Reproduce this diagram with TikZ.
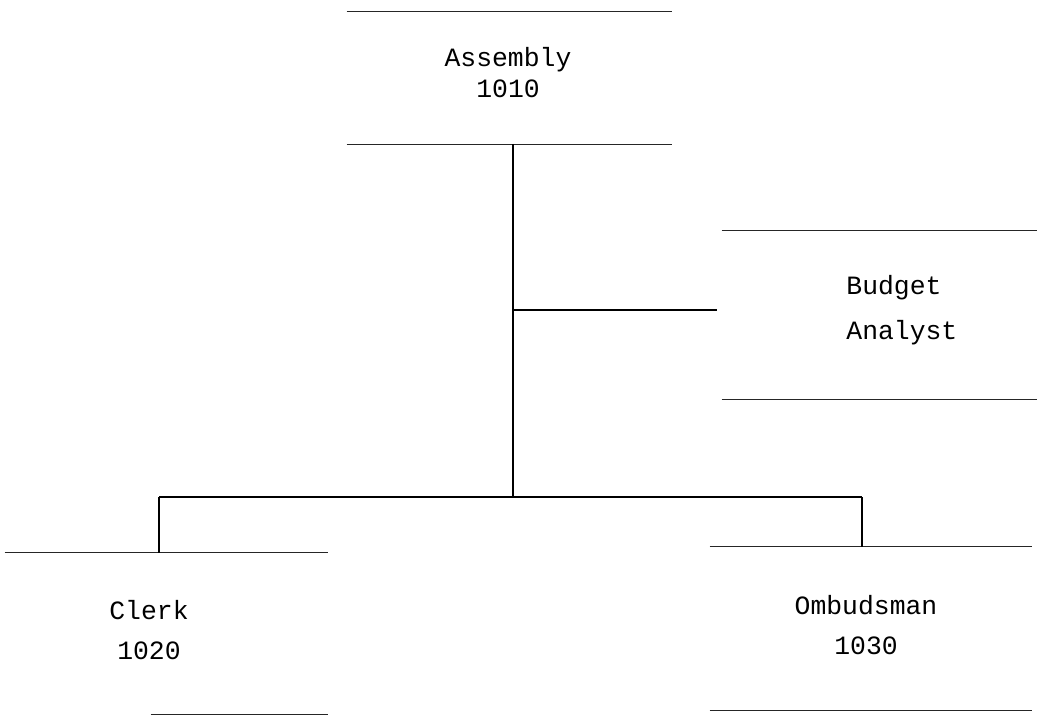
\documentclass[tikz,border=0pt]{standalone}
\usepackage{fontspec}
\setmonofont{Liberation Mono}
\begin{document}
\begin{tikzpicture}[x=0.5pt,y=-0.5pt,
  box/.style={draw=none,rectangle,inner sep=0pt},
  lbl/.style={font=\ttfamily\fontsize{13.2}{15.5}\selectfont,inner sep=0pt},
  rule/.style={line width=0.6pt,black!85},
  conn/.style={line width=0.6pt,black}]
\useasboundingbox (0,0) rectangle (1037,715);
% boxes (only top and bottom rules are drawn)
\node[box,minimum width=162.5pt,minimum height=66pt] (asm) at (509.5,78) {};
\node[box,minimum width=157.5pt,minimum height=84pt] (bud) at (879.5,315) {};
\node[box,minimum width=161.5pt,minimum height=80.5pt] (clerk) at (166.5,633.5) {};
\node[box,minimum width=161pt,minimum height=81.5pt] (omb) at (871,628.5) {};
% labels
\node[lbl,align=center] (asmt) at (508,73) {Assembly\\1010};
\node[lbl,align=left,anchor=west] (budt) at (846,310.5) {Budget\\[7pt]Analyst};
\node[lbl,align=center] (clerkt) at (149,630) {Clerk\\[4.5pt]1020};
\node[lbl,align=center] (ombt) at (866,625) {Ombudsman\\[4.5pt]1030};
% rules
\draw[rule] (asm.north west) -- (asm.north east);
\draw[rule] (asm.south west) -- (asm.south east);
\draw[rule] (bud.north west) -- (bud.north east);
\draw[rule] (bud.south west) -- (bud.south east);
\draw[rule] (clerk.north west) -- (clerk.north east);
\draw[rule] ([xshift=73pt]clerk.south west) -- (clerk.south east);
\draw[rule] (omb.north west) -- (omb.north east);
\draw[rule] (omb.south west) -- (omb.south east);
% connectors
\coordinate (top) at (513,144);
\coordinate (busL) at (159,497);
\coordinate (busR) at (862,497);
\coordinate (busM) at (513,497);
\coordinate (brE) at (717,310);
\draw[conn] (top) -- (busM);
\draw[conn] (top |- brE) -- (brE);
\draw[conn] (busL) -- (busR);
\draw[conn] (busL) -- (busL |- clerk.north);
\draw[conn] (busR) -- (busR |- omb.north);
\end{tikzpicture}
\end{document}
